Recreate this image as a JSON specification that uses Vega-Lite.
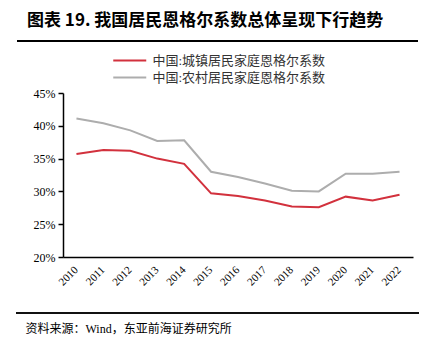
{
  "$schema": "https://vega.github.io/schema/vega-lite/v6.json",
  "width": 350,
  "height": 164,
  "autosize": "none",
  "padding": {"left": 63, "top": 93, "right": 23, "bottom": 84},
  "background": "white",
  "title": {
    "text": "图表 19. 我国居民恩格尔系数总体呈现下行趋势",
    "anchor": "start",
    "frame": "group",
    "dx": -36,
    "dy": 30,
    "offset": 40,
    "font": "Noto Sans CJK SC",
    "fontSize": 17,
    "fontWeight": "bold",
    "color": "#000000"
  },
  "config": {
    "view": {"stroke": null},
    "axis": {"grid": false}
  },
  "layer": [
    {
      "data": {
        "values": [
          {"year": "2010", "series": "中国:城镇居民家庭恩格尔系数", "value": 35.7},
          {"year": "2011", "series": "中国:城镇居民家庭恩格尔系数", "value": 36.3},
          {"year": "2012", "series": "中国:城镇居民家庭恩格尔系数", "value": 36.2},
          {"year": "2013", "series": "中国:城镇居民家庭恩格尔系数", "value": 35.0},
          {"year": "2014", "series": "中国:城镇居民家庭恩格尔系数", "value": 34.2},
          {"year": "2015", "series": "中国:城镇居民家庭恩格尔系数", "value": 29.7},
          {"year": "2016", "series": "中国:城镇居民家庭恩格尔系数", "value": 29.3},
          {"year": "2017", "series": "中国:城镇居民家庭恩格尔系数", "value": 28.6},
          {"year": "2018", "series": "中国:城镇居民家庭恩格尔系数", "value": 27.7},
          {"year": "2019", "series": "中国:城镇居民家庭恩格尔系数", "value": 27.6},
          {"year": "2020", "series": "中国:城镇居民家庭恩格尔系数", "value": 29.2},
          {"year": "2021", "series": "中国:城镇居民家庭恩格尔系数", "value": 28.6},
          {"year": "2022", "series": "中国:城镇居民家庭恩格尔系数", "value": 29.5},
          {"year": "2010", "series": "中国:农村居民家庭恩格尔系数", "value": 41.1},
          {"year": "2011", "series": "中国:农村居民家庭恩格尔系数", "value": 40.4},
          {"year": "2012", "series": "中国:农村居民家庭恩格尔系数", "value": 39.3},
          {"year": "2013", "series": "中国:农村居民家庭恩格尔系数", "value": 37.7},
          {"year": "2014", "series": "中国:农村居民家庭恩格尔系数", "value": 37.8},
          {"year": "2015", "series": "中国:农村居民家庭恩格尔系数", "value": 33.0},
          {"year": "2016", "series": "中国:农村居民家庭恩格尔系数", "value": 32.2},
          {"year": "2017", "series": "中国:农村居民家庭恩格尔系数", "value": 31.2},
          {"year": "2018", "series": "中国:农村居民家庭恩格尔系数", "value": 30.1},
          {"year": "2019", "series": "中国:农村居民家庭恩格尔系数", "value": 30.0},
          {"year": "2020", "series": "中国:农村居民家庭恩格尔系数", "value": 32.7},
          {"year": "2021", "series": "中国:农村居民家庭恩格尔系数", "value": 32.7},
          {"year": "2022", "series": "中国:农村居民家庭恩格尔系数", "value": 33.0}
        ]
      },
      "mark": {"type": "line", "strokeWidth": 2},
      "encoding": {
        "x": {
          "field": "year",
          "type": "ordinal",
          "scale": {"type": "band", "paddingInner": 0, "paddingOuter": 0},
          "axis": {
            "title": "资料来源：Wind，东亚前海证券研究所",
            "titleFont": "Liberation Serif, Noto Sans CJK SC",
            "titleFontSize": 12,
            "titleFontWeight": "normal",
            "titleColor": "#000000",
            "titleAnchor": "start",
            "titleAlign": "left",
            "titleBaseline": "middle",
            "titleX": -38,
            "titleY": 71,
            "labelAngle": -45,
            "labelAlign": "right",
            "labelBaseline": "middle",
            "labelFont": "Liberation Serif",
            "labelFontSize": 11,
            "labelColor": "#000000",
            "labelPadding": 11,
            "ticks": false,
            "domainColor": "#000000",
            "domainWidth": 1.5
          }
        },
        "y": {
          "field": "value",
          "type": "quantitative",
          "scale": {"domain": [20, 45], "nice": false, "zero": false},
          "axis": {
            "title": null,
            "values": [20, 25, 30, 35, 40, 45],
            "labelExpr": "datum.value + '%'",
            "labelFont": "Liberation Serif",
            "labelFontSize": 12,
            "labelColor": "#000000",
            "labelPadding": 3,
            "tickSize": 5,
            "tickColor": "#000000",
            "tickWidth": 1.5,
            "domainColor": "#000000",
            "domainWidth": 1.5
          }
        },
        "color": {
          "field": "series",
          "type": "nominal",
          "sort": ["中国:城镇居民家庭恩格尔系数", "中国:农村居民家庭恩格尔系数"],
          "scale": {
            "domain": ["中国:城镇居民家庭恩格尔系数", "中国:农村居民家庭恩格尔系数"],
            "range": ["#D2313D", "#ADADAD"]
          },
          "legend": {
            "title": null,
            "orient": "none",
            "legendX": 49,
            "legendY": -42,
            "direction": "vertical",
            "symbolType": "M-1,0L3,0",
            "symbolSize": 272,
            "symbolStrokeWidth": 2,
            "labelFont": "Liberation Serif, Noto Sans CJK SC",
            "labelFontSize": 13,
            "labelColor": "#333333",
            "labelOffset": 21.5,
            "labelLimit": 300,
            "rowPadding": 0
          }
        }
      }
    },
    {
      "data": {"values": [{"pos": "top"}]},
      "mark": {"type": "rule", "color": "#000000", "strokeWidth": 2},
      "encoding": {
        "x": {"value": -46},
        "x2": {"value": 355},
        "y": {"value": -52}
      }
    },
    {
      "data": {"values": [{"pos": "bottom"}]},
      "mark": {"type": "rule", "color": "#111111", "strokeWidth": 1.8},
      "encoding": {
        "x": {"value": -47},
        "x2": {"value": 356},
        "y": {"value": 220},
        "y2": {"value": 220}
      }
    }
  ]
}
